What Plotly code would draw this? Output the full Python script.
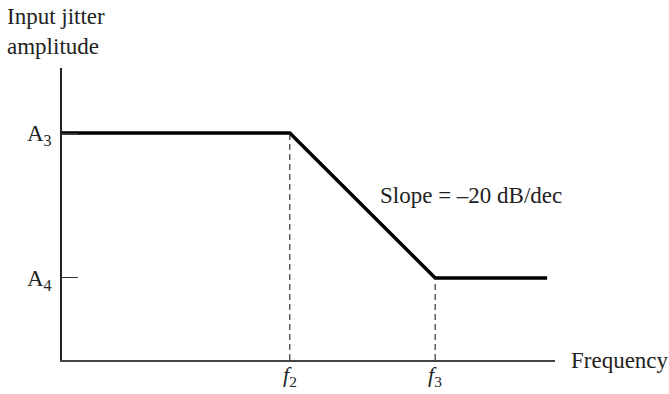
import plotly.graph_objects as go

# Data (abstract units)
freq_pts = [0.0, 4.62, 7.57, 9.84]       # start, f2, f3, end
amp_pts = [7.77, 7.77, 2.81, 2.81]        # A3, A3, A4, A4
x_tick_vals = [4.62, 7.57]
x_tick_text = ["<i>f</i><sub>2</sub>", "<i>f</i><sub>3</sub>"]
y_tick_vals = [2.81, 7.77]
y_tick_text = ["A<sub>4</sub>", "A<sub>3</sub>"]

FONT = "Liberation Serif, Times New Roman, serif"
FS = 23

fig = go.Figure()
fig.add_trace(go.Scatter(x=freq_pts, y=amp_pts, mode="lines",
                         line=dict(color="black", width=3.5), showlegend=False,
                         hoverinfo="skip"))
# dashed drop lines
for xv, yv in zip(freq_pts[1:3], amp_pts[1:3]):
    fig.add_trace(go.Scatter(x=[xv, xv], y=[0, yv], mode="lines",
                             line=dict(color="#333", width=1.2, dash="6px,4px"),
                             showlegend=False, hoverinfo="skip"))

annotations = [
    dict(text="Input jitter<br>amplitude", xref="paper", yref="paper",
         x=-62/493 + 5/493, y=1 + 66/292, xanchor="left", yanchor="top",
         showarrow=False, align="left", font=dict(size=FS)),
    dict(text="Frequency", xref="paper", yref="y", x=1 + 14/493, y=0,
         xanchor="left", yanchor="middle", showarrow=False, font=dict(size=FS)),
    dict(text="Slope = –20 dB/dec", xref="x", yref="y", x=6.4, y=5.65,
         xanchor="left", yanchor="middle", showarrow=False, font=dict(size=FS)),
]
for xv, txt in zip(x_tick_vals, x_tick_text):
    annotations.append(dict(text=txt, xref="x", yref="paper", x=xv, y=0,
                            xanchor="center", yanchor="top", yshift=0,
                            showarrow=False, font=dict(size=22)))

fig.update_layout(
    width=669, height=394,
    margin=dict(l=62, r=114, t=68, b=34),
    plot_bgcolor="white", paper_bgcolor="white",
    font=dict(family=FONT, size=FS, color="#222"),
    xaxis=dict(range=[0, 10], showgrid=False, zeroline=False, showline=True,
               linecolor="#444", linewidth=1.5, tickvals=x_tick_vals,
               showticklabels=False, ticks="", automargin=False),
    yaxis=dict(range=[0, 10], showgrid=False, zeroline=False, showline=True,
               linecolor="#222", linewidth=1.5, tickvals=y_tick_vals,
               ticktext=y_tick_text, ticks="inside", ticklen=16, tickwidth=1.2,
               tickcolor="#333", tickfont=dict(size=FS), automargin=False,
               ticklabelstandoff=4),
    annotations=annotations,
)
fig.write_html("out.html")
